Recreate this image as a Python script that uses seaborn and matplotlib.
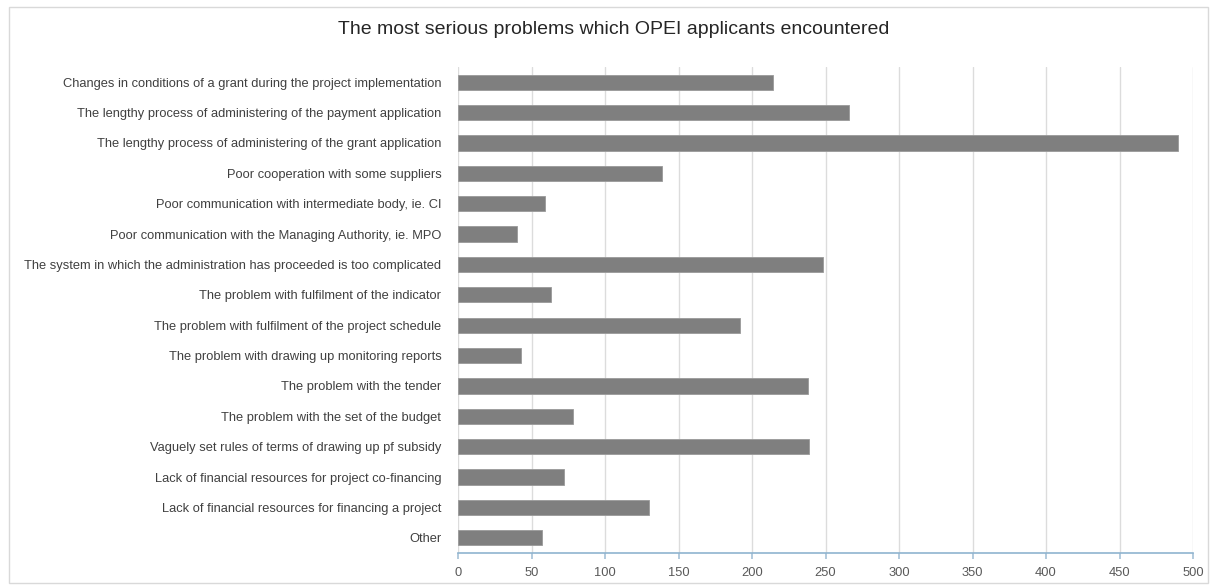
import matplotlib
matplotlib.use("Agg")
import matplotlib.pyplot as plt
import seaborn as sns
import pandas as pd
from matplotlib.patches import Rectangle

categories = [
    "Changes in conditions of a grant during the project implementation",
    "The lengthy process of administering of the payment application",
    "The lengthy process of administering of the grant application",
    "Poor cooperation with some suppliers",
    "Poor communication with intermediate body, ie. CI",
    "Poor communication with the Managing Authority, ie. MPO",
    "The system in which the administration has proceeded is too complicated",
    "The problem with fulfilment of the indicator",
    "The problem with fulfilment of the project schedule",
    "The problem with drawing up monitoring reports",
    "The problem with the tender",
    "The problem with the set of the budget",
    "Vaguely set rules of terms of drawing up pf subsidy",
    "Lack of financial resources for project co-financing",
    "Lack of financial resources for financing a project",
    "Other",
]
values = [214, 266, 490, 139, 59, 40, 248, 63, 192, 43, 238, 78, 239, 72, 130, 57]
xticks = [0, 50, 100, 150, 200, 250, 300, 350, 400, 450, 500]
title = "The most serious problems which OPEI applicants encountered"

df = pd.DataFrame({"category": categories, "value": values})

sns.set_theme(style="white")
plt.rcParams["font.family"] = ["Liberation Sans", "DejaVu Sans"]

W, H = 1215, 585
fig = plt.figure(figsize=(W / 100, H / 100), dpi=100)
ax = fig.add_axes([458 / W, 1 - 553 / H, (1193 - 458) / W, (553 - 67) / H])

sns.barplot(data=df, x="value", y="category", orient="h", color="#7f7f7f",
            width=0.5, ax=ax, saturation=1, edgecolor="#9a9a9a", linewidth=0.6)

ax.set_xlim(0, 500)
ax.set_xticks(xticks)
ax.set_xticklabels([str(t) for t in xticks], color="#595959", fontsize=9.3)
ax.set_xlabel("")
ax.set_ylabel("")
ax.tick_params(axis="y", labelsize=9.3, labelcolor="#404040", length=0, pad=12)
ax.tick_params(axis="x", length=4, color="#a9c4d8", pad=6, direction="out", bottom=True)
ax.grid(axis="x", color="#dcdcdc", linewidth=1)
ax.set_axisbelow(True)
for s in ["top", "right", "left"]:
    ax.spines[s].set_visible(False)
ax.spines["bottom"].set_color("#8fb4cf")
ax.spines["bottom"].set_linewidth(1.2)

fig.text(0.505, 1 - 29 / H, title, ha="center", va="center", fontsize=14, color="#262626")

fig.patches.append(Rectangle((9 / W, 2 / H), (W - 16) / W, (H - 9) / H, transform=fig.transFigure,
                             fill=False, edgecolor="#d9d9d9", linewidth=1))

fig.savefig("out.png", dpi=100, facecolor="white")
